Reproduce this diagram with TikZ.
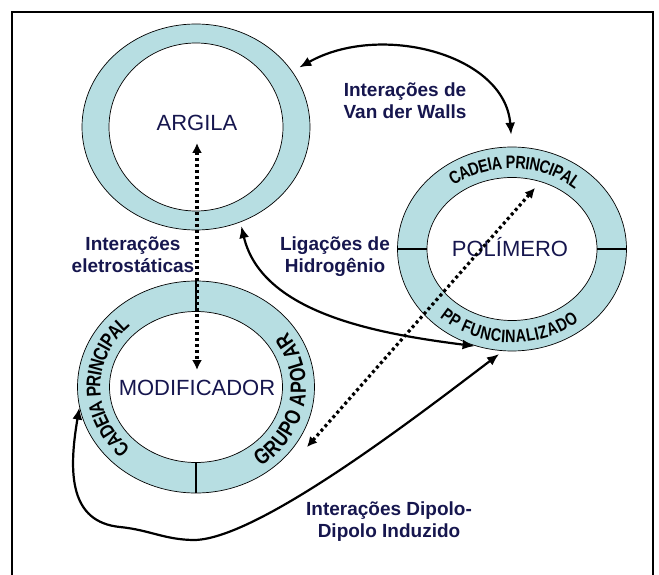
\documentclass[tikz,border=0pt]{standalone}
\usepackage{fontspec}
\setsansfont{Liberation Sans}
\newfontfamily\ringfam[FakeStretch=0.8]{Liberation Sans}
\usetikzlibrary{arrows.meta, shapes.geometric, decorations.text}

\definecolor{ringblue}{RGB}{183,222,226}
\definecolor{txtnavy}{RGB}{22,22,78}
\newcommand\rfont[1]{\fontsize{#1}{#1}\selectfont\ringfam\bfseries}

\begin{document}
\begin{tikzpicture}[x=1pt, y=1pt,
		ring/.style={ellipse, draw=black, line width=0.7pt, fill=ringblue, inner sep=0pt},
		hole/.style={ellipse, draw=black, line width=0.7pt, fill=white, inner sep=0pt},
		mainlbl/.style={text=txtnavy, font={\sffamily\fontsize{22}{26}\selectfont}, inner sep=0pt},
		lbl/.style={text=txtnavy, align=center, font={\sffamily\bfseries\fontsize{19}{22}\selectfont}, inner sep=0pt},
		conn/.style={line width=2.2pt, {Latex[length=12pt,width=10pt]}-{Latex[length=12pt,width=10pt]}},
		dotline/.style={line width=3.2pt, dash pattern=on 3pt off 3pt, {Latex[length=10pt,width=10pt]}-{Latex[length=10pt,width=10pt]}},
		divider/.style={line width=2.2pt},
		ringtext/.style n args={3}{decorate, decoration={text along path, text={|\rfont{#2}|#1}, text align=center, raise=#3}}]
		\useasboundingbox (0,0) rectangle (659,574);
		\draw[line width=1.5pt] (12,-2) -- (12,562) -- (653,562) -- (653,-2);
		% the three rings
		\node[ring, minimum width=228pt, minimum height=206pt] (argila) at (196,447) {};
		\node[hole, minimum width=174pt, minimum height=168pt] (argilain) at (argila.center) {};
		\node[ring, minimum width=237pt, minimum height=212pt] (mod) at (196,187) {};
		\node[hole, minimum width=173pt, minimum height=151pt] (modin) at (mod.center) {};
		\node[ring, minimum width=229pt, minimum height=204pt] (poly) at (512,325) {};
		\node[hole, minimum width=170pt, minimum height=143pt] (polyin) at (poly.center) {};
		\draw[divider] (mod.north) -- (modin.north);
		\draw[divider] (mod.south) -- (modin.south);
		\draw[divider] (poly.west) -- (polyin.west);
		\draw[divider] (poly.east) -- (polyin.east);
		% text on the rings
		\path[ringtext={CADEIA PRINCIPAL}{18}{-6.5pt}] (poly.center) ++(158:100 and 87) arc[start angle=158, end angle=18, x radius=100, y radius=87];
		\path[ringtext={PP FUNCINALIZADO}{18}{-6.5pt}] (poly.center) ++(198:100 and 87) arc[start angle=198, end angle=338, x radius=100, y radius=87];
		\path[ringtext={CADEIA PRINCIPAL}{20}{-7pt}] (mod.center) ++(250:102.5 and 91) arc[start angle=250, end angle=110, x radius=102.5, y radius=91];
		\path[ringtext={GRUPO APOLAR}{22}{-7.5pt}] (mod.center) ++(-80:102.5 and 91) arc[start angle=-80, end angle=61, x radius=102.5, y radius=91];
		\node[mainlbl] (argilatxt) at (197,451) {ARGILA};
		\node[mainlbl] (modtxt) at (197,186) {MODIFICADOR};
		\node[mainlbl] (polytxt) at (510,327) {POLÍMERO};
		% interactions
		\node[lbl] (vdwlbl) at (405,473) {Interações de\\Van der Walls};
		\node[lbl] (hidlbl) at (335,317) {Ligações de\\Hidrogênio};
		\node[lbl] (elelbl) at (133,319) {Interações\\eletrostáticas};
		\node[lbl] (diplbl) at (389,52) {Interações Dipolo-\\Dipolo Induzido};
		\draw[conn, shorten <=8pt, shorten >=12pt] (argila.30) .. controls (380,552) and (505,520) .. (poly.north);
		\draw[conn, shorten <=4pt, shorten >=2pt] (argila.-65) .. controls (262,260) and (380,240) .. (poly.250);
		\draw[conn, shorten >=5pt] (mod.190) .. controls (68,100) and (70,52) .. (120,47) .. controls (150,44) and (165,34) .. (195,34) .. controls (260,36) and (420,160) .. (poly.265);
		\draw[dotline, shorten <=12pt, shorten >=10pt] (argilatxt.south) -- (modtxt.north);
		\coordinate (polytip) at (535,386);
		\coordinate (modtip) at (307,127);
		\draw[dotline] (modtip) -- (polytip);
	\end{tikzpicture}
\end{document}
